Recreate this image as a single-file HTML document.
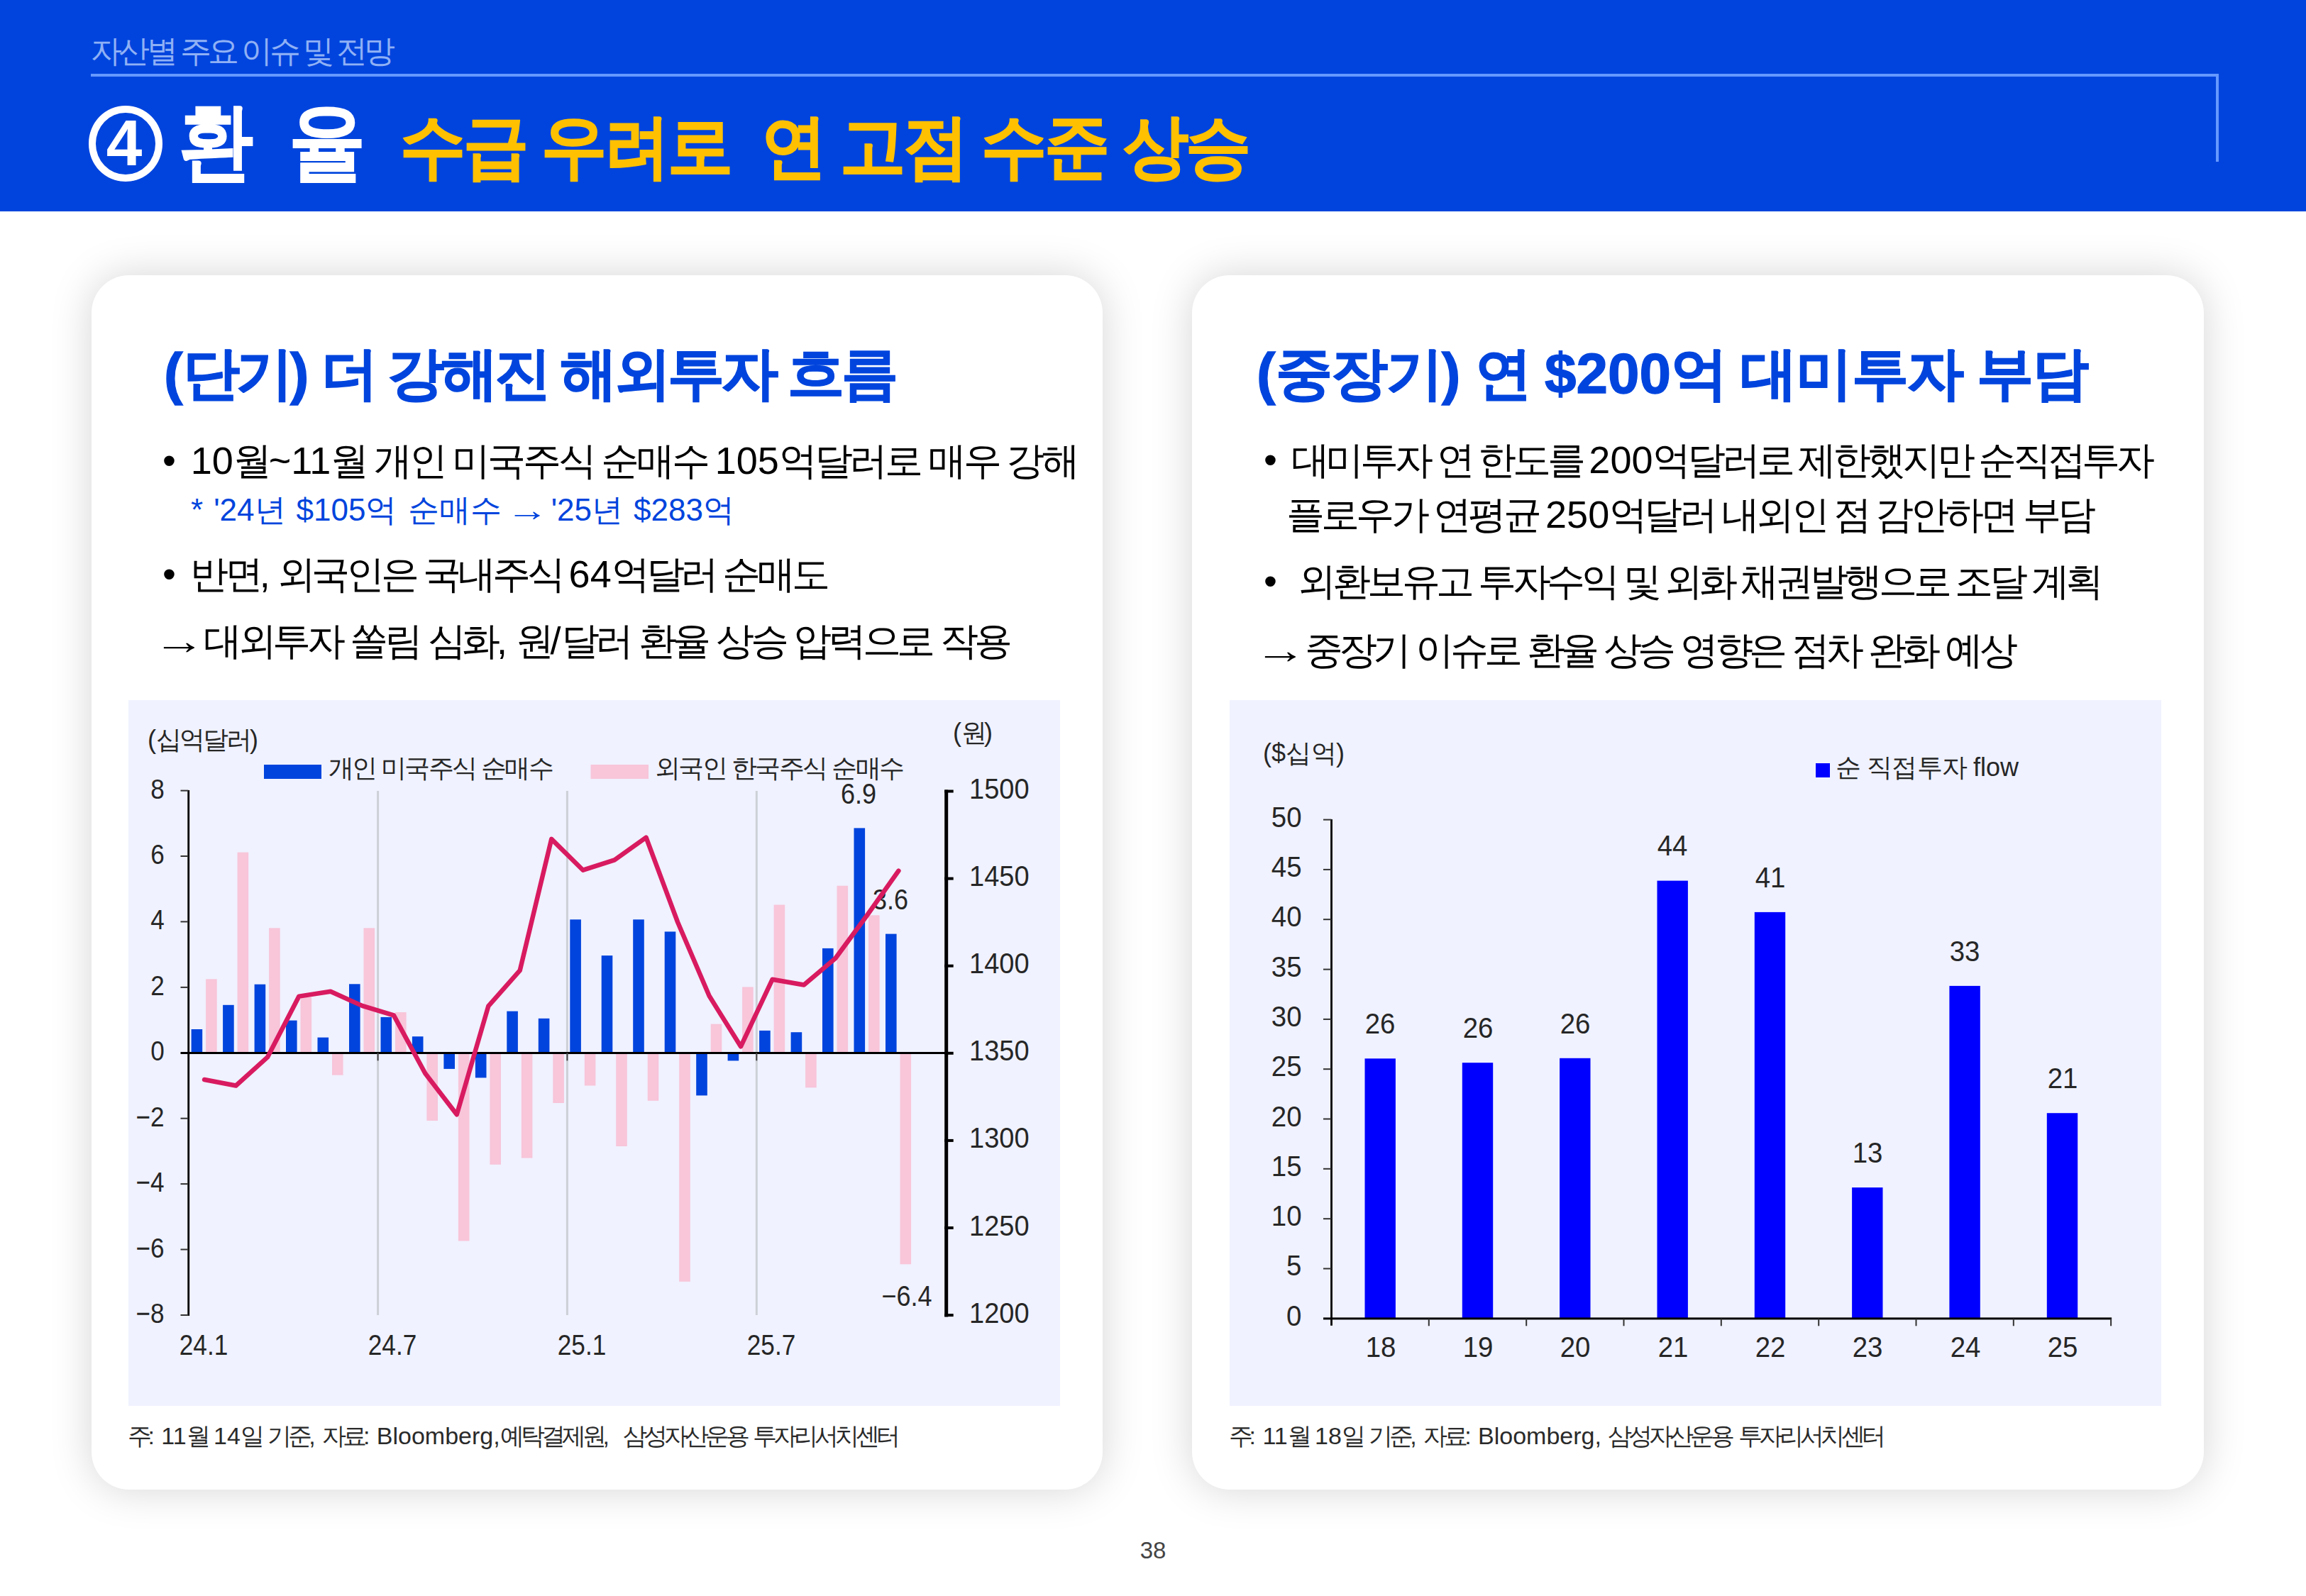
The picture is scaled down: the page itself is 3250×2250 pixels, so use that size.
<!DOCTYPE html>
<html lang="ko">
<head>
<meta charset="utf-8">
<title>환율 - 수급 우려로 연 고점 수준 상승</title>
<style>
html,body{margin:0;padding:0}
body{width:3250px;height:2250px;position:relative;overflow:hidden;background:#fff;
 font-family:"Liberation Sans",sans-serif;color:#000}
.t{position:absolute;white-space:pre;line-height:1;margin:0;padding:0;font-weight:normal;transform-origin:0 50%}
.r{transform-origin:100% 50%}
.c{transform-origin:50% 50%}
.hdr{position:absolute;left:0;top:0;width:3250px;height:297.5px;background:#0044DD}
.hl{position:absolute;background:#6699FF}
.card{position:absolute;background:#fff;border-radius:53px;box-shadow:0 0 58px 0 rgba(0,0,0,.17)}
.cbg{position:absolute;background:#F0F2FF}
.circ{position:absolute;left:125px;top:149px;width:83.5px;height:86.5px;border:10.5px solid #fff;border-radius:50%}
svg{position:absolute;left:0;top:0}
.b{font-weight:bold}
.j{text-align:justify;text-align-last:justify}
.n{letter-spacing:0;display:inline-block}
.ar{display:inline-block;transform:scaleX(1.35);transform-origin:100% 50%;letter-spacing:0;margin-right:-.26em}
.ar2{margin-left:.17em}
.bl{display:inline-block;letter-spacing:0;margin-right:10px}
</style>
</head>
<body>
<header>
<div class="hdr"></div>
<div class="t j" style="top:49.7px;font-size:44px;left:128.0px;color:#8FB0F5;letter-spacing:-4.60px;width:424.5px;">자산별 주요 이슈 및 전망</div>
<div class="hl" style="left:128px;top:104px;width:2999px;height:4px"></div>
<div class="hl" style="left:3122.8px;top:104px;width:4.2px;height:124px"></div>
<div class="circ"></div>
<div class="t b c" style="top:156.0px;font-size:91px;left:-125.0px;width:600px;text-align:center;color:#fff;">4</div>
<div class="t b" style="top:140.2px;font-size:119px;left:252.0px;color:#fff;transform:scaleX(0.88);-webkit-text-stroke:1.5px #fff;">환</div>
<div class="t b" style="top:140.2px;font-size:119px;left:407.0px;color:#fff;transform:scaleX(0.91);-webkit-text-stroke:1.5px #fff;">율</div>
<h1 class="t b j" style="top:157.0px;font-size:98px;left:563.5px;color:#FFC000;letter-spacing:-3.73px;width:1272.3px;transform:scaleX(0.94);-webkit-text-stroke:1.6px #FFC000;">수급 우려로  연 고점 수준 상승</h1>
</header>
<main>
<div class="card" style="left:128.5px;top:388px;width:1425.5px;height:1712px"></div>
<div class="card" style="left:1680px;top:388px;width:1426px;height:1712px"></div>
<div class="cbg" style="left:181px;top:987px;width:1313px;height:994.5px"></div>
<div class="cbg" style="left:1733px;top:987px;width:1312.5px;height:994.5px"></div>
<section>
<h2 class="t b j" style="top:486.8px;font-size:80px;left:231.0px;color:#0044DD;letter-spacing:-4.51px;width:1030px;-webkit-text-stroke:1.3px #0044DD;"><span class="n">(</span>단기<span class="n">)</span> 더 강해진 해외투자 흐름</h2>
<p class="t j" style="top:621.8px;font-size:54px;left:229.0px;letter-spacing:-4.18px;width:1289px;"><span class="bl">•</span> <span class="n">10</span>월<span class="n">~11</span>월 개인 미국주식 순매수 <span class="n">105</span>억달러로 매우 강해</p>
<p class="t j" style="top:696.7px;font-size:44px;left:269.0px;color:#0044DD;letter-spacing:0.00px;width:766px;"><span class="n">*</span> <span class="n">'24</span>년 <span class="n">$105</span>억 순매수 <span class="ar ar2">→</span> <span class="n">'25</span>년 <span class="n">$283</span>억</p>
<p class="t j" style="top:781.8px;font-size:54px;left:229.0px;letter-spacing:-5.10px;width:936px;"><span class="bl">•</span> 반면<span class="n">,</span> 외국인은 국내주식 <span class="n">64</span>억달러 순매도</p>
<p class="t j" style="top:876.3px;font-size:54px;left:235.0px;letter-spacing:-5.38px;width:1187px;"><span class="ar">→</span> 대외투자 쏠림 심화<span class="n">,</span> 원<span class="n">/</span>달러 환율 상승 압력으로 작용</p>
<p class="t j" style="top:2007.2px;font-size:34px;left:179.5px;color:#2a2a2a;letter-spacing:-5.04px;width:1084px;word-spacing:5px;">주<span class="n">:</span> <span class="n">11</span>월 <span class="n">14</span>일 기준<span class="n">,</span> 자료<span class="n">:</span> <span class="n">Bloomberg,</span>예탁결제원<span class="n">,</span>  삼성자산운용 투자리서치센터</p>
</section>
<section>
<h2 class="t b j" style="top:486.8px;font-size:80px;left:1771.0px;color:#0044DD;letter-spacing:-1.94px;width:1171px;-webkit-text-stroke:1.3px #0044DD;"><span class="n">(</span>중장기<span class="n">)</span> 연 <span class="n">$200</span>억 대미투자 부담</h2>
<p class="t j" style="top:620.8px;font-size:54px;left:1781.0px;letter-spacing:-5.22px;width:1251px;"><span class="bl">•</span> 대미투자 연 한도를 <span class="n">200</span>억달러로 제한했지만 순직접투자</p>
<p class="t j" style="top:697.8px;font-size:54px;left:1813.0px;letter-spacing:-4.77px;width:1136px;">플로우가 연평균 <span class="n">250</span>억달러 내외인 점 감안하면 부담</p>
<p class="t j" style="top:792.3px;font-size:54px;left:1781.0px;letter-spacing:-5.26px;width:1179px;"><span class="bl">•</span>  외환보유고 투자수익 및 외화 채권발행으로 조달 계획</p>
<p class="t j" style="top:888.8px;font-size:54px;left:1787.0px;letter-spacing:-5.70px;width:1051px;"><span class="ar">→</span> 중장기 이슈로 환율 상승 영향은 점차 완화 예상</p>
<p class="t j" style="top:2007.2px;font-size:34px;left:1731.5px;color:#2a2a2a;letter-spacing:-5.02px;width:921px;word-spacing:5px;">주<span class="n">:</span> <span class="n">11</span>월 <span class="n">18</span>일 기준<span class="n">,</span> 자료<span class="n">:</span> <span class="n">Bloomberg,</span> 삼성자산운용 투자리서치센터</p>
</section>
<div class="t c" style="top:2169.1px;font-size:33px;left:1325.0px;width:600px;text-align:center;color:#444;">38</div>
<div class="t c" style="top:1099.1px;font-size:40px;left:909.5px;width:600px;text-align:center;color:#262626;transform:scaleX(0.9);">6.9</div>
<div class="t c" style="top:1248.1px;font-size:40px;left:955.0px;width:600px;text-align:center;color:#262626;transform:scaleX(0.9);">3.6</div>
<div class="t c" style="top:1806.6px;font-size:40px;left:978.0px;width:600px;text-align:center;color:#262626;transform:scaleX(0.9);">−6.4</div>
<svg width="3250" height="2250" viewBox="0 0 3250 2250">
<rect x="531.1" y="1115" width="3" height="739" fill="#CDD0D6"/>
<rect x="797.9" y="1115" width="3" height="739" fill="#CDD0D6"/>
<rect x="1064.8" y="1115" width="3" height="739" fill="#CDD0D6"/>
<g fill="#F8C5D9">
<rect x="290.1" y="1380.3" width="15.6" height="104.0"/>
<rect x="334.6" y="1201.6" width="15.6" height="282.7"/>
<rect x="379.1" y="1308.3" width="15.6" height="176.0"/>
<rect x="423.5" y="1405.8" width="15.6" height="78.5"/>
<rect x="468.0" y="1484.3" width="15.6" height="31.4"/>
<rect x="512.5" y="1308.3" width="15.6" height="176.0"/>
<rect x="557.0" y="1427.0" width="15.6" height="57.3"/>
<rect x="601.4" y="1484.3" width="15.6" height="95.6"/>
<rect x="645.9" y="1484.3" width="15.6" height="265.2"/>
<rect x="690.4" y="1484.3" width="15.6" height="157.5"/>
<rect x="734.8" y="1484.3" width="15.6" height="148.3"/>
<rect x="779.3" y="1484.3" width="15.6" height="70.7"/>
<rect x="823.8" y="1484.3" width="15.6" height="46.2"/>
<rect x="868.2" y="1484.3" width="15.6" height="131.7"/>
<rect x="912.7" y="1484.3" width="15.6" height="67.5"/>
<rect x="957.2" y="1484.3" width="15.6" height="322.5"/>
<rect x="1001.7" y="1443.6" width="15.6" height="40.7"/>
<rect x="1046.1" y="1391.4" width="15.6" height="92.9"/>
<rect x="1090.6" y="1275.5" width="15.6" height="208.8"/>
<rect x="1135.1" y="1484.3" width="15.6" height="49.0"/>
<rect x="1179.5" y="1248.7" width="15.6" height="235.6"/>
<rect x="1224.0" y="1290.3" width="15.6" height="194.0"/>
<rect x="1268.5" y="1484.3" width="15.6" height="298.0"/>
</g>
<g fill="#0044DD">
<rect x="269.6" y="1451.0" width="15.6" height="33.3"/>
<rect x="314.1" y="1416.8" width="15.6" height="67.5"/>
<rect x="358.6" y="1387.7" width="15.6" height="96.6"/>
<rect x="403.0" y="1438.6" width="15.6" height="45.7"/>
<rect x="447.5" y="1462.6" width="15.6" height="21.7"/>
<rect x="492.0" y="1387.3" width="15.6" height="97.0"/>
<rect x="536.5" y="1433.9" width="15.6" height="50.4"/>
<rect x="580.9" y="1461.2" width="15.6" height="23.1"/>
<rect x="625.4" y="1484.3" width="15.6" height="22.6"/>
<rect x="669.9" y="1484.3" width="15.6" height="35.1"/>
<rect x="714.3" y="1425.6" width="15.6" height="58.7"/>
<rect x="758.8" y="1435.8" width="15.6" height="48.5"/>
<rect x="803.3" y="1296.3" width="15.6" height="188.0"/>
<rect x="847.7" y="1347.1" width="15.6" height="137.2"/>
<rect x="892.2" y="1296.3" width="15.6" height="188.0"/>
<rect x="936.7" y="1313.4" width="15.6" height="170.9"/>
<rect x="981.2" y="1484.3" width="15.6" height="60.1"/>
<rect x="1025.6" y="1484.3" width="15.6" height="11.1"/>
<rect x="1070.1" y="1452.9" width="15.6" height="31.4"/>
<rect x="1114.6" y="1455.2" width="15.6" height="29.1"/>
<rect x="1159.0" y="1336.9" width="15.6" height="147.4"/>
<rect x="1203.5" y="1167.4" width="15.6" height="316.9"/>
<rect x="1248.0" y="1316.6" width="15.6" height="167.7"/>
</g>
<rect x="254.5" y="1483" width="1079.0" height="3" fill="#000"/>
<rect x="264.3" y="1114" width="2.8" height="741" fill="#000"/>
<rect x="254.5" y="1113.6" width="11" height="2" fill="#333"/>
<rect x="254.5" y="1206.0" width="11" height="2" fill="#333"/>
<rect x="254.5" y="1298.4" width="11" height="2" fill="#333"/>
<rect x="254.5" y="1390.9" width="11" height="2" fill="#333"/>
<rect x="254.5" y="1575.7" width="11" height="2" fill="#333"/>
<rect x="254.5" y="1668.1" width="11" height="2" fill="#333"/>
<rect x="254.5" y="1760.5" width="11" height="2" fill="#333"/>
<rect x="254.5" y="1853.0" width="11" height="2" fill="#333"/>
<rect x="531.6" y="1484.3" width="2" height="11" fill="#444"/>
<rect x="798.4" y="1484.3" width="2" height="11" fill="#444"/>
<rect x="1065.3" y="1484.3" width="2" height="11" fill="#444"/>
<rect x="1331.2" y="1113.5" width="5" height="743" fill="#000"/>
<rect x="1331.2" y="1113.5" width="12.5" height="4" fill="#000"/>
<rect x="1331.2" y="1236.6" width="12.5" height="4" fill="#000"/>
<rect x="1331.2" y="1359.7" width="12.5" height="4" fill="#000"/>
<rect x="1331.2" y="1482.8" width="12.5" height="4" fill="#000"/>
<rect x="1331.2" y="1605.9" width="12.5" height="4" fill="#000"/>
<rect x="1331.2" y="1729.0" width="12.5" height="4" fill="#000"/>
<rect x="1331.2" y="1852.1" width="12.5" height="4" fill="#000"/>
<polyline points="288.0,1522.0 332.5,1530.5 377.0,1490.4 421.4,1404.6 465.9,1397.8 510.4,1417.9 554.9,1431.4 599.3,1513.3 643.8,1571.2 688.3,1418.4 732.7,1368.2 777.2,1182.9 821.7,1226.7 866.1,1212.4 910.6,1180.6 955.1,1300.0 999.6,1404.0 1044.0,1475.3 1088.5,1380.8 1133.0,1388.5 1177.4,1351.0 1221.9,1290.5 1266.4,1227.6" fill="none" stroke="#D81B60" stroke-width="6.5" stroke-linejoin="round" stroke-linecap="round"/>
<rect x="372" y="1078" width="81" height="20" fill="#0044DD"/>
<rect x="832.5" y="1078" width="81.5" height="20" fill="#F8C5D9"/>
<g fill="#0000FF">
<rect x="1923.5" y="1492.3" width="43.4" height="366.5"/>
<rect x="2060.8" y="1498.2" width="43.4" height="360.6"/>
<rect x="2198.1" y="1491.8" width="43.4" height="367.0"/>
<rect x="2335.5" y="1241.6" width="43.4" height="617.2"/>
<rect x="2472.8" y="1285.9" width="43.4" height="572.9"/>
<rect x="2610.1" y="1674.1" width="43.4" height="184.7"/>
<rect x="2747.4" y="1389.9" width="43.4" height="468.9"/>
<rect x="2884.8" y="1569.2" width="43.4" height="289.6"/>
</g>
<rect x="1865" y="1857.4" width="1111.1" height="3" fill="#000"/>
<rect x="1875.1" y="1155" width="2.8" height="713.8" fill="#000"/>
<rect x="1865" y="1154.6" width="11.5" height="2" fill="#333"/>
<rect x="1865" y="1224.9" width="11.5" height="2" fill="#333"/>
<rect x="1865" y="1295.2" width="11.5" height="2" fill="#333"/>
<rect x="1865" y="1365.6" width="11.5" height="2" fill="#333"/>
<rect x="1865" y="1435.9" width="11.5" height="2" fill="#333"/>
<rect x="1865" y="1506.2" width="11.5" height="2" fill="#333"/>
<rect x="1865" y="1576.5" width="11.5" height="2" fill="#333"/>
<rect x="1865" y="1646.8" width="11.5" height="2" fill="#333"/>
<rect x="1865" y="1717.2" width="11.5" height="2" fill="#333"/>
<rect x="1865" y="1787.5" width="11.5" height="2" fill="#333"/>
<rect x="2012.8" y="1858.8" width="2" height="10.5" fill="#333"/>
<rect x="2150.2" y="1858.8" width="2" height="10.5" fill="#333"/>
<rect x="2287.5" y="1858.8" width="2" height="10.5" fill="#333"/>
<rect x="2424.8" y="1858.8" width="2" height="10.5" fill="#333"/>
<rect x="2562.2" y="1858.8" width="2" height="10.5" fill="#333"/>
<rect x="2699.5" y="1858.8" width="2" height="10.5" fill="#333"/>
<rect x="2836.8" y="1858.8" width="2" height="10.5" fill="#333"/>
<rect x="2974.1" y="1858.8" width="2" height="10.5" fill="#333"/>
<rect x="2559" y="1076" width="20" height="20" fill="#0000FF"/>
</svg>
<div class="t j" style="top:1024.5px;font-size:36px;left:208.0px;color:#262626;letter-spacing:-3.00px;width:156px;"><span class="n">(</span>십억달러<span class="n">)</span></div>
<div class="t j" style="top:1014.5px;font-size:36px;left:1343.0px;color:#262626;letter-spacing:-4.00px;width:56px;"><span class="n">(</span>원<span class="n">)</span></div>
<div class="t j" style="top:1064.5px;font-size:36px;left:463.0px;color:#262626;letter-spacing:-2.64px;width:315px;">개인 미국주식 순매수</div>
<div class="t j" style="top:1064.5px;font-size:36px;left:922.5px;color:#262626;letter-spacing:-2.50px;width:350px;">외국인 한국주식 순매수</div>
<div class="t r" style="top:1092.5px;font-size:39px;right:3018.5px;color:#262626;transform:scaleX(0.9);">8</div>
<div class="t r" style="top:1185.0px;font-size:39px;right:3018.5px;color:#262626;transform:scaleX(0.9);">6</div>
<div class="t r" style="top:1277.4px;font-size:39px;right:3018.5px;color:#262626;transform:scaleX(0.9);">4</div>
<div class="t r" style="top:1369.8px;font-size:39px;right:3018.5px;color:#262626;transform:scaleX(0.9);">2</div>
<div class="t r" style="top:1462.2px;font-size:39px;right:3018.5px;color:#262626;transform:scaleX(0.9);">0</div>
<div class="t r" style="top:1554.6px;font-size:39px;right:3018.5px;color:#262626;transform:scaleX(0.9);">−2</div>
<div class="t r" style="top:1647.1px;font-size:39px;right:3018.5px;color:#262626;transform:scaleX(0.9);">−4</div>
<div class="t r" style="top:1739.5px;font-size:39px;right:3018.5px;color:#262626;transform:scaleX(0.9);">−6</div>
<div class="t r" style="top:1831.9px;font-size:39px;right:3018.5px;color:#262626;transform:scaleX(0.9);">−8</div>
<div class="t" style="top:1092.0px;font-size:40px;left:1365.5px;color:#262626;transform:scaleX(0.95);">1500</div>
<div class="t" style="top:1215.1px;font-size:40px;left:1365.5px;color:#262626;transform:scaleX(0.95);">1450</div>
<div class="t" style="top:1338.2px;font-size:40px;left:1365.5px;color:#262626;transform:scaleX(0.95);">1400</div>
<div class="t" style="top:1461.3px;font-size:40px;left:1365.5px;color:#262626;transform:scaleX(0.95);">1350</div>
<div class="t" style="top:1584.4px;font-size:40px;left:1365.5px;color:#262626;transform:scaleX(0.95);">1300</div>
<div class="t" style="top:1707.5px;font-size:40px;left:1365.5px;color:#262626;transform:scaleX(0.95);">1250</div>
<div class="t" style="top:1830.6px;font-size:40px;left:1365.5px;color:#262626;transform:scaleX(0.95);">1200</div>
<div class="t c" style="top:1875.9px;font-size:40px;left:-13.5px;width:600px;text-align:center;color:#262626;transform:scaleX(0.88);">24.1</div>
<div class="t c" style="top:1875.9px;font-size:40px;left:253.4px;width:600px;text-align:center;color:#262626;transform:scaleX(0.88);">24.7</div>
<div class="t c" style="top:1875.9px;font-size:40px;left:520.2px;width:600px;text-align:center;color:#262626;transform:scaleX(0.88);">25.1</div>
<div class="t c" style="top:1875.9px;font-size:40px;left:787.0px;width:600px;text-align:center;color:#262626;transform:scaleX(0.88);">25.7</div>
<div class="t j" style="top:1043.5px;font-size:36px;left:1780.0px;color:#262626;letter-spacing:-0.51px;width:115px;"><span class="n">($</span>십억<span class="n">)</span></div>
<div class="t j" style="top:1063.5px;font-size:36px;left:2587.0px;color:#262626;letter-spacing:-0.86px;width:258px;">순 직접투자 <span class="n">flow</span></div>
<div class="t r" style="top:1131.6px;font-size:40px;right:1415.5px;color:#262626;transform:scaleX(0.96);">50</div>
<div class="t r" style="top:1201.9px;font-size:40px;right:1415.5px;color:#262626;transform:scaleX(0.96);">45</div>
<div class="t r" style="top:1272.2px;font-size:40px;right:1415.5px;color:#262626;transform:scaleX(0.96);">40</div>
<div class="t r" style="top:1342.5px;font-size:40px;right:1415.5px;color:#262626;transform:scaleX(0.96);">35</div>
<div class="t r" style="top:1412.8px;font-size:40px;right:1415.5px;color:#262626;transform:scaleX(0.96);">30</div>
<div class="t r" style="top:1483.2px;font-size:40px;right:1415.5px;color:#262626;transform:scaleX(0.96);">25</div>
<div class="t r" style="top:1553.5px;font-size:40px;right:1415.5px;color:#262626;transform:scaleX(0.96);">20</div>
<div class="t r" style="top:1623.8px;font-size:40px;right:1415.5px;color:#262626;transform:scaleX(0.96);">15</div>
<div class="t r" style="top:1694.1px;font-size:40px;right:1415.5px;color:#262626;transform:scaleX(0.96);">10</div>
<div class="t r" style="top:1764.4px;font-size:40px;right:1415.5px;color:#262626;transform:scaleX(0.96);">5</div>
<div class="t r" style="top:1834.8px;font-size:40px;right:1415.5px;color:#262626;transform:scaleX(0.96);">0</div>
<div class="t c" style="top:1878.6px;font-size:40px;left:1645.7px;width:600px;text-align:center;color:#262626;transform:scaleX(0.96);">18</div>
<div class="t c" style="top:1878.6px;font-size:40px;left:1783.0px;width:600px;text-align:center;color:#262626;transform:scaleX(0.96);">19</div>
<div class="t c" style="top:1878.6px;font-size:40px;left:1920.3px;width:600px;text-align:center;color:#262626;transform:scaleX(0.96);">20</div>
<div class="t c" style="top:1878.6px;font-size:40px;left:2057.7px;width:600px;text-align:center;color:#262626;transform:scaleX(0.96);">21</div>
<div class="t c" style="top:1878.6px;font-size:40px;left:2195.0px;width:600px;text-align:center;color:#262626;transform:scaleX(0.96);">22</div>
<div class="t c" style="top:1878.6px;font-size:40px;left:2332.3px;width:600px;text-align:center;color:#262626;transform:scaleX(0.96);">23</div>
<div class="t c" style="top:1878.6px;font-size:40px;left:2469.6px;width:600px;text-align:center;color:#262626;transform:scaleX(0.96);">24</div>
<div class="t c" style="top:1878.6px;font-size:40px;left:2607.0px;width:600px;text-align:center;color:#262626;transform:scaleX(0.96);">25</div>
<div class="t c" style="top:1422.9px;font-size:40px;left:1645.2px;width:600px;text-align:center;color:#262626;transform:scaleX(0.96);">26</div>
<div class="t c" style="top:1428.8px;font-size:40px;left:1782.5px;width:600px;text-align:center;color:#262626;transform:scaleX(0.96);">26</div>
<div class="t c" style="top:1422.5px;font-size:40px;left:1919.8px;width:600px;text-align:center;color:#262626;transform:scaleX(0.96);">26</div>
<div class="t c" style="top:1172.2px;font-size:40px;left:2057.2px;width:600px;text-align:center;color:#262626;transform:scaleX(0.96);">44</div>
<div class="t c" style="top:1216.5px;font-size:40px;left:2194.5px;width:600px;text-align:center;color:#262626;transform:scaleX(0.96);">41</div>
<div class="t c" style="top:1604.7px;font-size:40px;left:2331.8px;width:600px;text-align:center;color:#262626;transform:scaleX(0.96);">13</div>
<div class="t c" style="top:1320.5px;font-size:40px;left:2469.1px;width:600px;text-align:center;color:#262626;transform:scaleX(0.96);">33</div>
<div class="t c" style="top:1499.8px;font-size:40px;left:2606.5px;width:600px;text-align:center;color:#262626;transform:scaleX(0.96);">21</div>
</main>
</body>
</html>
